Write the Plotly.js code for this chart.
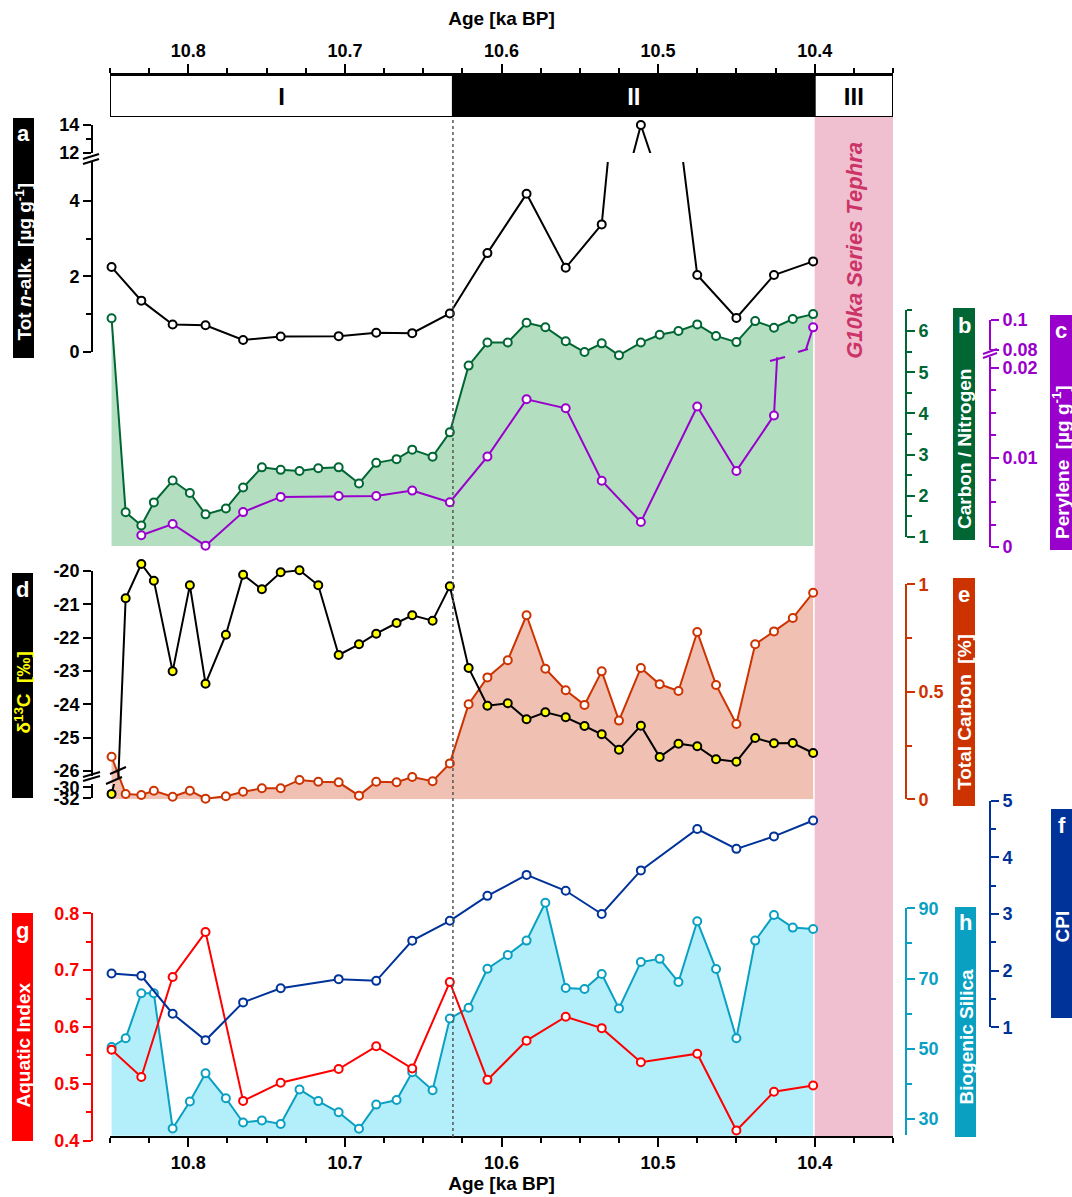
<!DOCTYPE html>
<html><head><meta charset="utf-8">
<script src="https://cdn.plot.ly/plotly-3.0.1.min.js"></script>
<style>html,body{margin:0;padding:0;background:#fff}#chart{width:1072px;height:1197px}</style>
</head><body><div id="chart"></div>
<script>
// ---------------- DATA ----------------
const ageAlk = [10.849,10.830,10.810,10.789,10.765,10.741,10.704,10.680,10.657,10.633,10.609,10.584,10.559,10.536,10.511,10.475,10.450,10.426,10.401];
const totAlk = [2.25,1.36,0.73,0.71,0.32,0.41,0.42,0.51,0.50,1.02,2.62,4.19,2.23,3.38,14.0,2.04,0.90,2.04,2.40];
const cpi = [1.95,1.91,1.24,0.77,1.44,1.69,1.85,1.82,2.53,2.88,3.32,3.69,3.41,3.00,3.77,4.50,4.15,4.37,4.65];
const aquatic = [0.560,0.512,0.688,0.767,0.470,0.502,0.526,0.566,0.527,0.679,0.507,0.576,0.618,0.598,0.538,0.553,0.418,0.486,0.497];
const agePer = [10.830,10.810,10.789,10.765,10.741,10.704,10.680,10.657,10.633,10.609,10.584,10.559,10.536,10.511,10.475,10.450,10.426,10.401];
const perylene = [0.00131,0.00257,0.00015,0.0039,0.0056,0.0057,0.0057,0.0063,0.0050,0.0101,0.0165,0.0155,0.0074,0.0028,0.0157,0.0085,0.0147,0.0951];
const ageBulk = [10.849,10.840,10.830,10.822,10.810,10.799,10.789,10.776,10.765,10.753,10.741,10.729,10.717,10.704,10.691,10.680,10.667,10.657,10.644,10.633,10.621,10.609,10.596,10.584,10.572,10.559,10.547,10.536,10.525,10.511,10.499,10.487,10.475,10.463,10.450,10.438,10.426,10.414,10.401];
const cn = [6.31,1.60,1.28,1.84,2.37,2.07,1.55,1.69,2.20,2.69,2.63,2.60,2.67,2.69,2.30,2.80,2.89,3.12,2.95,3.54,5.16,5.72,5.72,6.20,6.09,5.75,5.49,5.70,5.41,5.72,5.91,6.00,6.16,5.88,5.73,6.24,6.08,6.29,6.41];
const d13c = [-31.2,-20.82,-19.79,-20.29,-23.01,-20.43,-23.38,-21.91,-20.11,-20.55,-20.04,-19.98,-20.43,-22.52,-22.20,-21.88,-21.56,-21.33,-21.49,-20.46,-22.91,-24.04,-23.97,-24.45,-24.24,-24.39,-24.65,-24.90,-25.36,-24.64,-25.58,-25.18,-25.26,-25.65,-25.72,-25.01,-25.17,-25.16,-25.46];
const tc = [0.198,0.025,0.020,0.040,0.012,0.040,0.003,0.014,0.035,0.051,0.051,0.090,0.082,0.079,0.017,0.082,0.079,0.104,0.084,0.167,0.442,0.567,0.647,0.856,0.607,0.507,0.439,0.595,0.366,0.611,0.535,0.504,0.778,0.532,0.350,0.721,0.781,0.843,0.961];
const bsi = [50.5,53.0,65.8,65.8,27.3,35.0,43.0,35.9,29.0,29.6,28.6,38.4,35.1,31.9,27.2,34.1,35.4,43.3,38.2,58.6,61.7,72.8,76.7,80.8,91.6,67.3,67.0,71.3,61.5,74.7,75.6,69.0,86.3,72.7,53.0,80.8,88.1,84.5,84.1];

const zoneNames = ['I','II','III'];
const zoneStart = [10.85,10.631,10.4];
const zoneEnd = [10.631,10.4,10.35];
const boundaryAge = 10.631;
const tephraAge = [10.4,10.35];
const ageTicks = [10.8,10.7,10.6,10.5,10.4];
const d13cTicksUp = [-26,-25,-24,-23,-22,-21,-20];
const d13cTicksLow = [-32,-30];
const perTicksUp = [0.08,0.1];
const bsiTicks = [30,50,70,90];

// ---------------- STYLE / LAYOUT HELPERS ----------------
const W = 1072, H = 1197;
const px = p => p / W, py = p => 1 - p / H;
const FONT = 'Liberation Sans, Arial, sans-serif';
const GREEN='#006633', GREEN_FILL='#b3dfc0', PURPLE='#9900cc', TCC='#cc3300', TC_FILL='#f0c0b2',
      RED='#ff0000', NAVY='#003399', CYAN='#0aa0c2', CYAN_FILL='#b3eefb', PINK='#f0c0d0';

// pixel calibration of each value axis: [v0, pix0, v1, pix1]
const cal = {
  H:[30,1119,90,908.3], G:[0.4,1140.7,0.8,913.3], F:[1,1027.3,5,800.7], E:[0,799.3,1,584.3],
  Dup:[-26,771,-20,571], Dlow:[-32,798.3,-30,787.3], B:[1,537,6,331],
  Clow:[0,547,0.02,368], Cup:[0.08,350,0.1,320], Alow:[0,352,4,201], Aup:[12,153,14,125]
};
function domOf(c, r){ const f = v => c[1] + (v - c[0]) * (c[3] - c[1]) / (c[2] - c[0]); return [py(f(r[0])), py(f(r[1]))]; }
function disp(c, r, color, side, xpos, extra){
  return Object.assign({range:r, domain:domOf(c,r), autorange:false, anchor:'free', position:px(xpos), side:side,
    showline:true, linecolor:color, linewidth:2, ticks:'outside', ticklen:8, tickwidth:2, tickcolor:color,
    tickfont:{family:FONT, size:18, color:color, weight:'bold'}, showgrid:false, zeroline:false, fixedrange:true}, extra||{});
}
function hid(c, r){ return {range:r, domain:domOf(c,r), autorange:false, visible:false, anchor:'x', fixedrange:true, showgrid:false, zeroline:false}; }
function minor(color, opts){ return Object.assign({ticks:'outside', ticklen:5, tickwidth:2, tickcolor:color}, opts); }
function mk(color, fill){ return {symbol:'circle', size:8, color:fill||'#ffffff', line:{color:color, width:2}}; }
function pick(xs, ys, cond){ const X=[], Y=[]; xs.forEach((x,i)=>{ if(cond(ys[i])){ X.push(x); Y.push(ys[i]); } }); return [X,Y]; }

const traces = [];
function lineTr(x, y, ax, color, extra){ traces.push(Object.assign({type:'scatter', x:x, y:y, xaxis:'x', yaxis:ax, mode:'lines', line:{color:color, width:2}, hoverinfo:'skip', showlegend:false}, extra||{})); }
function markTr(x, y, ax, color, fill){ traces.push({type:'scatter', x:x, y:y, xaxis:'x', yaxis:ax, mode:'markers', marker:mk(color, fill), cliponaxis:false, hoverinfo:'skip', showlegend:false}); }

// zones bar (top)
traces.push({type:'bar', orientation:'h', xaxis:'x2', yaxis:'y', y:zoneNames.map(()=>0.5), base:zoneEnd,
  x:zoneStart.map((s,i)=>s - zoneEnd[i]), width:1,
  marker:{color:['#ffffff','#000000','#ffffff'], line:{color:'#000', width:2}},
  text:zoneNames, textposition:'inside', insidetextanchor:'middle', textangle:0, constraintext:'none',
  textfont:{family:FONT, size:24, color:['#000','#fff','#000'], weight:'bold'}, hoverinfo:'skip', showlegend:false});

// h: biogenic silica
lineTr(ageBulk, bsi, 'y10', CYAN, {fill:'tozeroy', fillcolor:CYAN_FILL});
markTr(ageBulk, bsi, 'y10', CYAN);
// f: CPI
lineTr(ageAlk, cpi, 'y12', NAVY); markTr(ageAlk, cpi, 'y12', NAVY);
// g: aquatic index
lineTr(ageAlk, aquatic, 'y11', RED); markTr(ageAlk, aquatic, 'y11', RED);
// e: total carbon
lineTr(ageBulk, tc, 'y13', TCC, {fill:'tozeroy', fillcolor:TC_FILL});
markTr(ageBulk, tc, 'y13', TCC);
// d: d13C (broken axis)
const dBreak = -28;
lineTr(ageBulk, d13c, 'y14', '#000'); markTr(...pick(ageBulk, d13c, v => v >= dBreak), 'y14', '#000', '#ffff00');
lineTr(ageBulk, d13c, 'y15', '#000'); markTr(...pick(ageBulk, d13c, v => v < dBreak), 'y15', '#000', '#ffff00');
// b: C/N
lineTr(ageBulk, cn, 'y16', GREEN, {fill:'tozeroy', fillcolor:GREEN_FILL});
markTr(ageBulk, cn, 'y16', GREEN);
// c: perylene (broken axis)
const pBreak = 0.05;
lineTr(agePer, perylene, 'y17', PURPLE); markTr(...pick(agePer, perylene, v => v < pBreak), 'y17', PURPLE);
lineTr(agePer, perylene, 'y18', PURPLE); markTr(...pick(agePer, perylene, v => v >= pBreak), 'y18', PURPLE);
// a: total n-alkanes (broken axis)
const aBreak = 8;
lineTr(ageAlk, totAlk, 'y19', '#000'); markTr(...pick(ageAlk, totAlk, v => v < aBreak), 'y19', '#000');
lineTr(ageAlk, totAlk, 'y20', '#000'); markTr(...pick(ageAlk, totAlk, v => v >= aBreak), 'y20', '#000');
// display-only axes (no visible marks)
[['y21', bsi, ageBulk], ['y22', cpi, ageAlk], ['y23', d13c, ageBulk], ['y24', cn, ageBulk]].forEach(([ax, ys, xs]) =>
  traces.push({type:'scatter', x:xs, y:ys, xaxis:'x', yaxis:ax, mode:'none', hoverinfo:'skip', showlegend:false}));

const xCommon = {range:[10.85,10.35], autorange:false, domain:[px(110), px(893)], showline:true, linewidth:2, linecolor:'#000',
  ticks:'outside', ticklen:9, tickwidth:2, tickcolor:'#000', tickvals:ageTicks, ticktext:ageTicks.map(v=>v.toFixed(1)),
  tickfont:{family:FONT, size:18, color:'#000', weight:'bold'}, showgrid:false, zeroline:false, fixedrange:true,
  minor:minor('#000', {dtick:0.025, tick0:10.4})};
const titleFont = {family:FONT, size:19, color:'#000', weight:'bold'};

const layout = {
  width:W, height:H, margin:{l:0, r:0, t:0, b:0, pad:0}, paper_bgcolor:'#fff', plot_bgcolor:'rgba(0,0,0,0)',
  showlegend:false, font:{family:FONT}, hovermode:false, bargap:0,
  xaxis:Object.assign({}, xCommon, {anchor:'free', position:py(1137), side:'bottom', title:{text:'Age [ka BP]', font:titleFont, standoff:4}}),
  xaxis2:Object.assign({}, xCommon, {anchor:'y', side:'top', title:{text:'Age [ka BP]', font:titleFont, standoff:10}}),
  yaxis:{domain:[py(117), py(75)], range:[0,1], autorange:false, visible:false, anchor:'x2', fixedrange:true},
  yaxis10:hid(cal.H, [25.2, 93]),
  yaxis11:disp(cal.G, [0.4, 0.8], RED, 'left', 92, {dtick:0.1, tick0:0.4, tickformat:'.1f', minor:minor(RED, {dtick:0.05, tick0:0.4})}),
  yaxis12:hid(cal.F, [0.6, 5.05]),
  yaxis13:disp(cal.E, [0, 1], TCC, 'right', 906, {dtick:0.5, tick0:0, minor:minor(TCC, {dtick:0.25, tick0:0})}),
  yaxis14:hid(cal.Dup, [-26.2, -19.6]),
  yaxis15:disp(cal.Dlow, [-32, -29.4], '#000', 'left', 92, {tickvals:d13cTicksLow, ticktext:d13cTicksLow.map(String)}),
  yaxis16:hid(cal.B, [0.78, 6.5]),
  yaxis17:disp(cal.Clow, [0, 0.0212], PURPLE, 'right', 990, {dtick:0.01, tick0:0, minor:minor(PURPLE, {dtick:0.0025, tick0:0})}),
  yaxis18:disp(cal.Cup, [0.08, 0.1], PURPLE, 'right', 990, {tickvals:perTicksUp, ticktext:perTicksUp.map(String)}),
  yaxis19:disp(cal.Alow, [0, 5.03], '#000', 'left', 92, {dtick:2, tick0:0, minor:minor('#000', {tickmode:'array', tickvals:[1,3]})}),
  yaxis20:disp(cal.Aup, [12, 14], '#000', 'left', 92, {dtick:2, tick0:12, minor:minor('#000', {tickmode:'array', tickvals:[13]})}),
  yaxis21:disp(cal.H, [25.5, 90], CYAN, 'right', 906, {tickvals:bsiTicks, ticktext:bsiTicks.map(String), minor:minor(CYAN, {dtick:10, tick0:30})}),
  yaxis22:disp(cal.F, [1, 5], NAVY, 'right', 990, {dtick:1, tick0:1, minor:minor(NAVY, {dtick:0.5, tick0:1})}),
  yaxis23:disp(cal.Dup, [-26.15, -20], '#000', 'left', 92, {tickvals:d13cTicksUp, ticktext:d13cTicksUp.map(String)}),
  yaxis24:disp(cal.B, [1, 6.5], GREEN, 'right', 906, {dtick:1, tick0:1, minor:minor(GREEN, {dtick:0.5, tick0:1})}),
  shapes:[], annotations:[]
};

// tephra band and zone boundary
layout.shapes.push({type:'rect', xref:'x', yref:'paper', x0:tephraAge[0], x1:tephraAge[1], y0:py(1137), y1:py(117), fillcolor:PINK, line:{width:0}, layer:'below'});
layout.shapes.push({type:'line', xref:'x', yref:'paper', x0:boundaryAge, x1:boundaryAge, y0:py(1137), y1:py(117), line:{color:'#555', width:1.5, dash:'dot'}, layer:'above'});

// break marks (decoration)
function brk(x0,y0,x1,y1,color){ layout.shapes.push({type:'line', xref:'paper', yref:'paper', x0:px(x0), y0:py(y0), x1:px(x1), y1:py(y1), line:{color:color, width:2}, layer:'above'}); }
brk(83,159,99,154,'#000'); brk(83,164,99,159,'#000');
brk(83,777,100,772,'#000'); brk(83,781,100,776,'#000');
brk(983,354,997,349,PURPLE); brk(983,358,997,353,PURPLE);
brk(110,774,126,767,'#000'); brk(106,784,122,777,'#000');
brk(770,361,785,357,PURPLE); brk(798,352,808,349,PURPLE);

// panel label boxes
const boxes = [
  {x0:13,x1:34,y0:118,y1:358,c:'#000',L:'a',ly:133,t:'Tot <i>n</i>-alk.\u00a0\u00a0[µg g<sup>-1</sup>]',ty:262,tc:'#fff'},
  {x0:12,x1:33,y0:573,y1:798,c:'#000',L:'d',ly:589,t:'δ<sup>13</sup>C\u00a0\u00a0[‰]',ty:693,tc:'#ffff00'},
  {x0:12,x1:33,y0:913,y1:1141,c:RED,L:'g',ly:930,t:'Aquatic Index',ty:1045,tc:'#fff'},
  {x0:953,x1:975,y0:308,y1:540,c:GREEN,L:'b',ly:325,t:'Carbon / Nitrogen',ty:449,tc:'#fff'},
  {x0:953,x1:975,y0:578,y1:806,c:TCC,L:'e',ly:595,t:'Total Carbon\u00a0\u00a0[%]',ty:712,tc:'#fff'},
  {x0:955,x1:976,y0:907,y1:1137,c:CYAN,L:'h',ly:922,t:'Biogenic Silica',ty:1037,tc:'#fff'},
  {x0:1050,x1:1072,y0:315,y1:550,c:PURPLE,L:'c',ly:331,t:'Perylene\u00a0\u00a0[µg g<sup>-1</sup>]',ty:462,tc:'#fff'},
  {x0:1051,x1:1072,y0:809,y1:1018,c:NAVY,L:'f',ly:825,t:'CPI',ty:927,tc:'#fff'}
];
boxes.forEach(b => {
  layout.shapes.push({type:'rect', xref:'paper', yref:'paper', x0:px(b.x0), x1:px(b.x1), y0:py(b.y1), y1:py(b.y0), fillcolor:b.c, line:{width:0}, layer:'above'});
  const cx = px((b.x0 + b.x1) / 2);
  layout.annotations.push({xref:'paper', yref:'paper', x:cx, y:py(b.ly), text:b.L, showarrow:false, textangle:0, xanchor:'center', yanchor:'middle', font:{family:FONT, size:22, color:'#fff', weight:'bold'}});
  layout.annotations.push({xref:'paper', yref:'paper', x:cx, y:py(b.ty), text:b.t, showarrow:false, textangle:-90, xanchor:'center', yanchor:'middle', font:{family:FONT, size:19, color:b.tc, weight:'bold'}});
});
layout.annotations.push({xref:'x', yref:'paper', x:(tephraAge[0] + tephraAge[1]) / 2, y:py(250), text:'G10ka Series Tephra', showarrow:false, textangle:-90,
  xanchor:'center', yanchor:'middle', font:{family:FONT, size:22, color:'#cc3366', weight:'bold', style:'italic'}});

Plotly.newPlot('chart', traces, layout, {staticPlot:true, displayModeBar:false});
</script></body></html>
